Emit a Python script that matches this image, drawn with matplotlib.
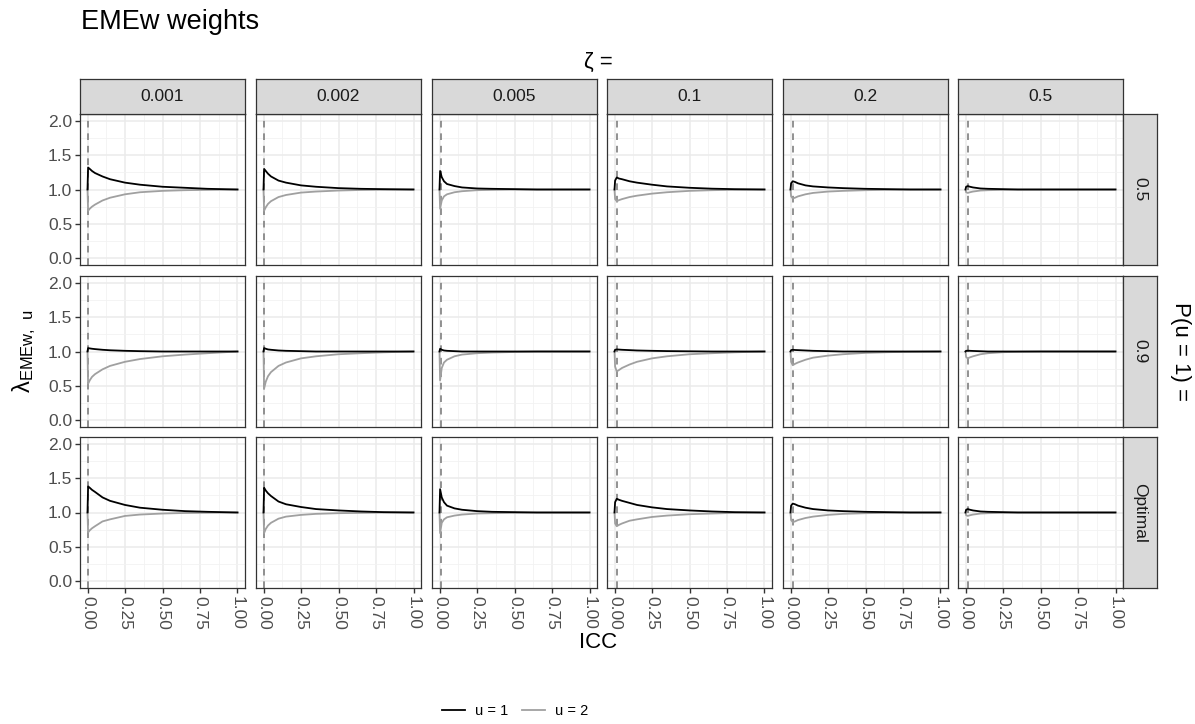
import matplotlib as mpl
mpl.use('Agg')
import matplotlib.pyplot as plt
from matplotlib.lines import Line2D
import numpy as np

plt.rcParams['font.family'] = ['Liberation Sans', 'DejaVu Sans']
plt.rcParams['mathtext.fontset'] = 'custom'
plt.rcParams['mathtext.rm'] = 'Liberation Sans'

# facet labels
zeta_labels = ['0.001', '0.002', '0.005', '0.1', '0.2', '0.5']
p_labels = ['0.5', '0.9', 'Optimal']
vline_icc = [0.002, 0.003, 0.008, 0.018, 0.015, 0.015]

icc = [0, 0.004, 0.015, 0.03, 0.05, 0.1, 0.15, 0.25, 0.35, 0.5, 0.65, 0.8, 1.0]

# P(u = 1) = 0.5
u1_p05 = [
    [1.0, 1.32, 1.30, 1.27, 1.24, 1.19, 1.15, 1.10, 1.07, 1.04, 1.025, 1.01, 1.0],
    [1.0, 1.30, 1.27, 1.23, 1.19, 1.13, 1.10, 1.06, 1.04, 1.02, 1.01, 1.005, 1.0],
    [1.0, 1.27, 1.18, 1.12, 1.08, 1.05, 1.03, 1.015, 1.01, 1.005, 1.0, 1.0, 1.0],
    [1.0, 1.13, 1.175, 1.16, 1.15, 1.12, 1.10, 1.07, 1.045, 1.025, 1.012, 1.005, 1.0],
    [1.0, 1.09, 1.12, 1.11, 1.09, 1.06, 1.045, 1.03, 1.02, 1.01, 1.005, 1.0, 1.0],
    [1.0, 1.04, 1.05, 1.04, 1.03, 1.015, 1.01, 1.005, 1.0, 1.0, 1.0, 1.0, 1.0],
]
u2_p05 = [
    [1.0, 0.69, 0.72, 0.75, 0.78, 0.84, 0.88, 0.93, 0.96, 0.98, 0.99, 0.995, 1.0],
    [1.0, 0.69, 0.74, 0.79, 0.83, 0.89, 0.92, 0.955, 0.97, 0.985, 0.993, 0.997, 1.0],
    [1.0, 0.72, 0.84, 0.90, 0.93, 0.96, 0.975, 0.99, 0.995, 1.0, 1.0, 1.0, 1.0],
    [1.0, 0.86, 0.83, 0.845, 0.86, 0.89, 0.91, 0.94, 0.96, 0.98, 0.99, 0.995, 1.0],
    [1.0, 0.90, 0.87, 0.88, 0.90, 0.93, 0.95, 0.97, 0.98, 0.99, 0.995, 1.0, 1.0],
    [1.0, 0.96, 0.95, 0.96, 0.97, 0.985, 0.99, 0.995, 1.0, 1.0, 1.0, 1.0, 1.0],
]
# P(u = 1) = 0.9
u1_p09 = [
    [1.0, 1.05, 1.045, 1.04, 1.035, 1.025, 1.018, 1.01, 1.005, 1.0, 1.0, 1.0, 1.0],
    [1.0, 1.05, 1.04, 1.03, 1.025, 1.015, 1.01, 1.005, 1.0, 1.0, 1.0, 1.0, 1.0],
    [1.0, 1.04, 1.025, 1.015, 1.01, 1.005, 1.0, 1.0, 1.0, 1.0, 1.0, 1.0, 1.0],
    [1.0, 1.025, 1.03, 1.028, 1.025, 1.02, 1.015, 1.01, 1.006, 1.003, 1.0, 1.0, 1.0],
    [1.0, 1.02, 1.025, 1.022, 1.02, 1.015, 1.01, 1.005, 1.0, 1.0, 1.0, 1.0, 1.0],
    [1.0, 1.01, 1.012, 1.01, 1.008, 1.004, 1.0, 1.0, 1.0, 1.0, 1.0, 1.0, 1.0],
]
u2_p09 = [
    [1.0, 0.53, 0.58, 0.63, 0.67, 0.74, 0.79, 0.85, 0.89, 0.93, 0.955, 0.975, 1.0],
    [1.0, 0.46, 0.56, 0.64, 0.70, 0.79, 0.84, 0.90, 0.93, 0.96, 0.975, 0.988, 1.0],
    [1.0, 0.58, 0.76, 0.84, 0.88, 0.93, 0.955, 0.975, 0.985, 0.993, 1.0, 1.0, 1.0],
    [1.0, 0.78, 0.71, 0.73, 0.76, 0.81, 0.85, 0.90, 0.93, 0.96, 0.975, 0.988, 1.0],
    [1.0, 0.85, 0.80, 0.82, 0.84, 0.88, 0.91, 0.94, 0.96, 0.98, 0.99, 0.995, 1.0],
    [1.0, 0.92, 0.90, 0.915, 0.93, 0.96, 0.975, 0.99, 0.995, 1.0, 1.0, 1.0, 1.0],
]
# P(u = 1) = Optimal
u1_opt = [
    [1.0, 1.38, 1.36, 1.33, 1.30, 1.22, 1.17, 1.11, 1.07, 1.04, 1.02, 1.01, 1.0],
    [1.0, 1.36, 1.32, 1.28, 1.24, 1.16, 1.12, 1.08, 1.05, 1.03, 1.015, 1.005, 1.0],
    [1.0, 1.34, 1.22, 1.15, 1.10, 1.06, 1.04, 1.02, 1.01, 1.005, 1.0, 1.0, 1.0],
    [1.0, 1.15, 1.20, 1.185, 1.17, 1.14, 1.11, 1.075, 1.05, 1.03, 1.015, 1.005, 1.0],
    [1.0, 1.10, 1.13, 1.12, 1.10, 1.07, 1.05, 1.03, 1.02, 1.01, 1.005, 1.0, 1.0],
    [1.0, 1.04, 1.05, 1.04, 1.03, 1.015, 1.01, 1.005, 1.0, 1.0, 1.0, 1.0, 1.0],
]
u2_opt = [
    [1.0, 0.71, 0.74, 0.77, 0.80, 0.87, 0.90, 0.95, 0.97, 0.985, 0.993, 0.997, 1.0],
    [1.0, 0.70, 0.76, 0.81, 0.85, 0.91, 0.94, 0.965, 0.98, 0.99, 0.995, 1.0, 1.0],
    [1.0, 0.70, 0.85, 0.90, 0.93, 0.955, 0.97, 0.985, 0.99, 0.995, 1.0, 1.0, 1.0],
    [1.0, 0.84, 0.80, 0.82, 0.84, 0.88, 0.90, 0.935, 0.955, 0.975, 0.985, 0.995, 1.0],
    [1.0, 0.89, 0.86, 0.87, 0.89, 0.92, 0.94, 0.965, 0.98, 0.99, 0.995, 1.0, 1.0],
    [1.0, 0.96, 0.95, 0.96, 0.97, 0.985, 0.99, 0.995, 1.0, 1.0, 1.0, 1.0, 1.0],
]

u1_rows = [u1_p05, u1_p09, u1_opt]
u2_rows = [u2_p05, u2_p09, u2_opt]

W, H = 1195, 724
fig = plt.figure(figsize=(W / 100, H / 100), dpi=100)


def box(x, y, w, h):
    # pixel box (top-left origin) -> figure fraction
    return [x / W, 1 - (y + h) / H, w / W, h / H]


def style_strip(sx):
    sx.set_xticks([])
    sx.set_yticks([])
    sx.set_facecolor(strip_col)
    for s in sx.spines.values():
        s.set_color(edge_col)
        s.set_linewidth(0.9)


col_left = [80, 256, 432, 607, 783, 958]
panel_w = 165
row_top = [114, 276, 437]
panel_h = 151
strip_col = '#D9D9D9'
edge_col = '#333333'
text_col = '#4D4D4D'
grey_line = '#A0A0A0'
tick_fs = 12.5

for r in range(3):
    for c in range(6):
        ax = fig.add_axes(box(col_left[c], row_top[r], panel_w, panel_h))
        ax.set_xlim(-0.05, 1.05)
        ax.set_ylim(-0.1, 2.1)
        ax.set_xticks([0, 0.25, 0.5, 0.75, 1.0])
        ax.set_xticks([0.125, 0.375, 0.625, 0.875], minor=True)
        ax.set_yticks([0, 0.5, 1.0, 1.5, 2.0])
        ax.set_yticks([0.25, 0.75, 1.25, 1.75], minor=True)
        ax.grid(True, which='major', color='#EBEBEB', lw=1.1)
        ax.grid(True, which='minor', color='#F2F2F2', lw=0.6)
        ax.set_axisbelow(True)
        for s in ax.spines.values():
            s.set_color(edge_col)
            s.set_linewidth(0.9)
        ax.tick_params(which='minor', length=0)
        ax.tick_params(which='major', length=3.5, width=1.0, color=edge_col,
                       labelcolor=text_col, labelsize=tick_fs, pad=2)
        if c != 0:
            ax.tick_params(axis='y', length=0, labelleft=False)
        else:
            ax.set_yticklabels(['0.0', '0.5', '1.0', '1.5', '2.0'])
        if r != 2:
            ax.tick_params(axis='x', length=0, labelbottom=False)
        else:
            ax.set_xticklabels(['0.00', '0.25', '0.50', '0.75', '1.00'],
                               rotation=270, ha='center', va='top')

        ax.axvline(vline_icc[c], color='#7F7F7F', lw=1.2, ls=(0, (4, 3.5)))
        ax.plot(icc, u2_rows[r][c], color=grey_line, lw=1.3)
        ax.plot(icc, u1_rows[r][c], color='black', lw=1.3)

        # right strip
        if c == 5:
            sx = fig.add_axes(box(col_left[c] + panel_w, row_top[r], 34, panel_h))
            style_strip(sx)
            sx.text(0.5, 0.5, p_labels[r], rotation=270, ha='center', va='center',
                    fontsize=tick_fs, color='#1A1A1A', transform=sx.transAxes)

# top strips
for c in range(6):
    sx = fig.add_axes(box(col_left[c], 79, panel_w, 35))
    style_strip(sx)
    sx.text(0.5, 0.5, zeta_labels[c], ha='center', va='center',
            fontsize=tick_fs, color='#1A1A1A', transform=sx.transAxes)

fig.text(81 / W, 1 - 22 / H, 'EMEw weights', fontsize=19.5, ha='left', va='center')
fig.text(598 / W, 1 - 62 / H, 'ζ =', fontsize=16, ha='center', va='center')
fig.text(598 / W, 1 - 643 / H, 'ICC', fontsize=16, ha='center', va='center')
fig.text(1180 / W, 1 - 351 / H, 'P(u = 1) =', fontsize=16, rotation=270,
         ha='center', va='center')
fig.text(24 / W, 1 - 351 / H, r'$\mathregular{λ_{EMEw,\ u}}$', fontsize=17,
         rotation=90, ha='center', va='center')

handles = [Line2D([], [], color='black', lw=1.3),
           Line2D([], [], color=grey_line, lw=1.3)]
fig.legend(handles, ['u = 1', 'u = 2'], loc='center', ncol=2,
           bbox_to_anchor=(515 / W, 1 - 711 / H), frameon=False, fontsize=10.5,
           handlelength=1.6, columnspacing=0.9, handletextpad=0.7)

fig.savefig('out.png', dpi=100)
